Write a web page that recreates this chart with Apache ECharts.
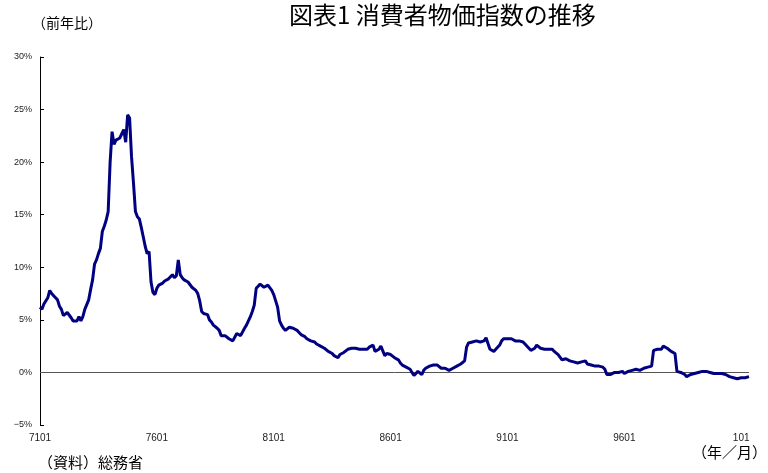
<!DOCTYPE html>
<html>
<head>
<meta charset="utf-8">
<script src="https://cdn.jsdelivr.net/npm/echarts@6/dist/echarts.min.js"></script>
<style>
html,body{margin:0;padding:0;background:#fff;}
#chart{width:768px;height:473px;}
</style>
</head>
<body>
<div id="chart"></div>
<script>
// Monthly CPI year-on-year change (%), 1971/01 - 2001/05
const startYear = 1971;
const cpi1971 = [6.2, 6.0, 6.5, 6.6, 7.1, 7.8, 7.5, 7.3, 7.1, 6.9, 6.3, 6.0];
const cpi1972 = [5.4, 5.5, 5.7, 5.6, 5.2, 4.9, 4.9, 4.9, 5.3, 4.9, 5.3, 6.0];
const cpi1973 = [6.1, 6.9, 7.9, 8.8, 10.3, 10.7, 11.3, 11.8, 13.4, 13.9, 14.5, 15.3];
const cpi1974 = [20.0, 22.9, 21.7, 22.1, 22.0, 22.3, 22.7, 23.1, 21.9, 24.5, 24.2, 20.5];
const cpi1975 = [18.0, 15.3, 14.8, 14.6, 13.8, 12.9, 12.0, 11.3, 11.5, 8.6, 7.6, 7.4];
const cpi1976 = [8.0, 8.3, 8.4, 8.5, 8.7, 8.8, 8.9, 9.0, 9.3, 9.0, 9.2, 10.7];
const cpi1977 = [9.3, 9.0, 8.8, 8.7, 8.6, 8.5, 8.1, 8.0, 7.8, 7.5, 6.8, 5.8];
const cpi1978 = [5.6, 5.5, 5.5, 5.0, 4.8, 4.5, 4.4, 4.2, 4.0, 3.5, 3.4, 3.5];
const cpi1979 = [3.4, 3.2, 3.1, 3.0, 2.9, 3.7, 3.8, 3.5, 3.6, 4.2, 4.5, 4.9];
const cpi1980 = [5.3, 5.8, 6.4, 8.0, 8.2, 8.4, 8.3, 8.1, 8.2, 8.3, 8.2, 7.8];
const cpi1981 = [7.4, 6.8, 6.2, 4.9, 4.5, 4.2, 4.0, 3.9, 4.3, 4.2, 4.2, 4.1];
const cpi1982 = [4.0, 3.8, 3.6, 3.5, 3.4, 3.2, 3.1, 3.0, 2.9, 2.9, 2.7, 2.6];
const cpi1983 = [2.5, 2.4, 2.3, 2.2, 2.0, 1.9, 1.8, 1.6, 1.5, 1.4, 1.7, 1.8];
const cpi1984 = [1.9, 2.0, 2.2, 2.2, 2.3, 2.2, 2.3, 2.3, 2.2, 2.3, 2.2, 2.3];
const cpi1985 = [2.2, 2.4, 2.3, 2.6, 2.0, 2.1, 2.2, 2.5, 2.6, 1.6, 1.8, 1.7];
const cpi1986 = [1.7, 1.6, 1.4, 1.3, 1.2, 0.9, 0.7, 0.6, 0.5, 0.4, 0.3, 0.0];
const cpi1987 = [-0.3, -0.1, 0.1, 0.1, -0.2, 0.2, 0.4, 0.5, 0.6, 0.6, 0.7, 0.7];
const cpi1988 = [0.7, 0.6, 0.4, 0.5, 0.4, 0.4, 0.2, 0.3, 0.4, 0.4, 0.6, 0.7];
const cpi1989 = [0.8, 0.9, 1.1, 2.4, 2.8, 2.9, 2.9, 2.9, 3.0, 2.9, 2.9, 3.0];
const cpi1990 = [3.0, 3.3, 3.2, 2.2, 2.1, 2.0, 2.2, 2.3, 2.6, 3.0, 3.2, 3.2];
const cpi1991 = [3.2, 3.2, 3.2, 3.1, 3.0, 3.0, 3.0, 3.1, 2.9, 2.7, 2.6, 2.3];
const cpi1992 = [2.1, 2.0, 2.3, 2.6, 2.5, 2.3, 2.3, 2.2, 2.3, 2.2, 2.1, 2.2];
const cpi1993 = [2.0, 1.9, 1.7, 1.6, 1.2, 1.3, 1.3, 1.2, 1.1, 1.0, 1.0, 1.0];
const cpi1994 = [0.9, 1.0, 1.0, 1.1, 1.1, 0.8, 0.7, 0.7, 0.6, 0.6, 0.6, 0.6];
const cpi1995 = [0.6, 0.5, 0.3, -0.2, -0.3, -0.2, -0.2, 0.0, 0.1, 0.0, 0.1, 0.1];
const cpi1996 = [-0.1, 0.0, 0.1, 0.1, 0.2, 0.2, 0.3, 0.2, 0.2, 0.2, 0.4, 0.4];
const cpi1997 = [0.5, 0.5, 0.6, 2.1, 2.1, 2.2, 2.1, 2.2, 2.5, 2.4, 2.3, 2.2];
const cpi1998 = [2.0, 1.9, 1.8, 0.1, 0.1, 0.0, 0.0, -0.2, -0.4, -0.3, -0.2, -0.2];
const cpi1999 = [-0.1, 0.0, 0.0, 0.1, 0.1, 0.1, 0.1, 0.0, 0.0, -0.1, -0.1, -0.2];
const cpi2000 = [-0.1, -0.2, -0.1, -0.2, -0.2, -0.3, -0.4, -0.4, -0.5, -0.5, -0.6, -0.6];
const cpi2001 = [-0.5, -0.6, -0.5, -0.5, -0.4];

const values = [].concat(
  cpi1971, cpi1972, cpi1973, cpi1974, cpi1975, cpi1976, cpi1977, cpi1978, cpi1979, cpi1980,
  cpi1981, cpi1982, cpi1983, cpi1984, cpi1985, cpi1986, cpi1987, cpi1988, cpi1989, cpi1990,
  cpi1991, cpi1992, cpi1993, cpi1994, cpi1995, cpi1996, cpi1997, cpi1998, cpi1999, cpi2000,
  cpi2001
);

// Category labels yymm (year without century, e.g. 7101 ... 101)
const categories = values.map((v, i) => {
  const y = startYear + Math.floor(i / 12);
  const m = (i % 12) + 1;
  return String((y % 100) * 100 + m);
});

const yTicks = { min: -5, max: 30, interval: 5 };

const titleText = '図表1 消費者物価指数の推移';
const yUnitText = '（前年比）';
const sourceText = '（資料）総務省';
const xUnitText = '（年／月）';

const chart = echarts.init(document.getElementById('chart'));
const jp = '"Noto Sans CJK JP", "Noto Sans", sans-serif';
chart.setOption({
  animation: false,
  backgroundColor: '#fff',
  grid: { left: 40, right: 19, top: 57, bottom: 48, containLabel: false },
  xAxis: {
    type: 'category',
    data: categories,
    boundaryGap: false,
    axisLine: { show: false, onZero: false },
    axisTick: { show: false },
    splitLine: { show: false },
    axisLabel: {
      interval: 59,
      margin: 8,
      color: '#222',
      fontSize: 10,
      fontFamily: '"Liberation Sans", Arial, sans-serif'
    }
  },
  yAxis: {
    type: 'value',
    min: yTicks.min,
    max: yTicks.max,
    interval: yTicks.interval,
    axisLine: { show: true, onZero: false, lineStyle: { color: '#000', width: 1 } },
    axisTick: { show: true, inside: true, length: 4, lineStyle: { color: '#000' } },
    splitLine: { show: false },
    axisLabel: {
      formatter: v => (v < 0 ? '\u2212' + Math.abs(v) : v) + '%',
      color: '#222',
      fontSize: 9,
      margin: 8,
      fontFamily: '"Liberation Sans", Arial, sans-serif'
    }
  },
  series: [{
    type: 'line',
    data: values,
    showSymbol: false,
    symbol: 'none',
    lineStyle: { color: '#000080', width: 3 },
    z: 3,
    markLine: {
      silent: true,
      symbol: 'none',
      label: { show: false },
      lineStyle: { color: '#555', width: 1, type: 'solid' },
      data: [{ yAxis: 0 }],
      z: 1
    }
  }],
  graphic: [
    { type: 'text', left: 289, top: 3, style: { text: titleText, font: '24px ' + jp, fill: '#000' } },
    { type: 'text', left: 32, top: 16, style: { text: yUnitText, font: '14px ' + jp, fill: '#000' } },
    { type: 'text', left: 38, top: 455, style: { text: sourceText, font: '15px ' + jp, fill: '#000' } },
    { type: 'text', left: 692, top: 445, style: { text: xUnitText, font: '15px ' + jp, fill: '#000' } }
  ]
});
</script>
</body>
</html>
